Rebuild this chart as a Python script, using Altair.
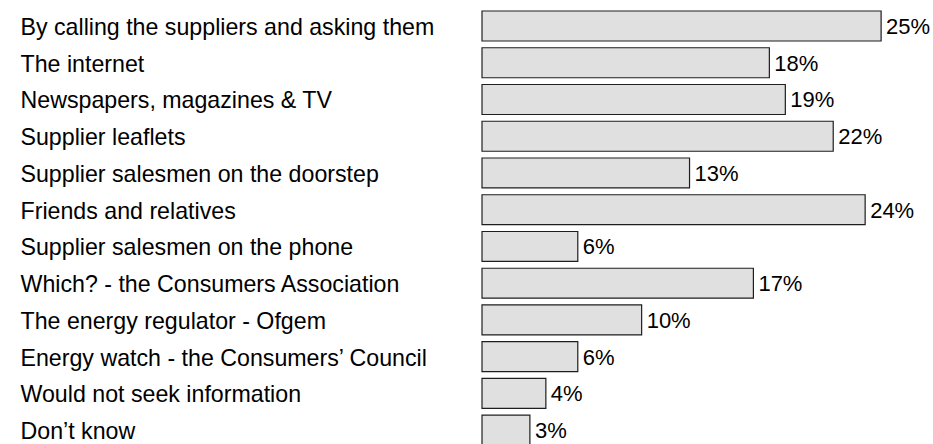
import altair as alt
import pandas as pd

sources = [
    "By calling the suppliers and asking them",
    "The internet",
    "Newspapers, magazines & TV",
    "Supplier leaflets",
    "Supplier salesmen on the doorstep",
    "Friends and relatives",
    "Supplier salesmen on the phone",
    "Which? - the Consumers Association",
    "The energy regulator - Ofgem",
    "Energy watch - the Consumers\u2019 Council",
    "Would not seek information",
    "Don\u2019t know",
]
shares = [25, 18, 19, 22, 13, 24, 6, 17, 10, 6, 4, 3]

df = pd.DataFrame({"source": sources, "share": shares})
df["label"] = df["share"].astype(str) + "%"

FONT = "Liberation Sans"

x_enc = alt.X("share:Q", scale=alt.Scale(domain=[0, 28.25], nice=False), axis=None)
y_enc = alt.Y(
    "source:N",
    sort=sources,
    scale=alt.Scale(range=[11, 445.2], paddingInner=0.184, paddingOuter=0),
    axis=alt.Axis(
        title=None,
        domain=False,
        ticks=False,
        grid=False,
        labelAlign="left",
        labelBaseline="middle",
        labelPadding=462,
        labelOffset=2,
        labelLimit=0,
        labelFont=FONT,
        labelFontSize=23.2,
        labelColor="#000000",
    ),
)

bars = alt.Chart(df).mark_bar(
    fill="#e0e0e0", stroke="#1e1e1e", strokeWidth=1.2
).encode(x=x_enc, y=y_enc)

values = alt.Chart(df).mark_text(
    align="left", baseline="middle", dx=5, dy=1, font=FONT, fontSize=22, color="#000000"
).encode(x=x_enc, y=y_enc, text="label:N")

chart = (
    alt.layer(bars, values)
    .properties(
        width=451,
        height=444,
        background="#ffffff",
        autosize=alt.AutoSizeParams(type="none"),
        padding={"left": 482, "top": 0, "right": 0, "bottom": 0},
    )
    .configure_view(strokeWidth=0)
)

chart.save("out.html", embed_options={"renderer": "svg", "actions": False})
